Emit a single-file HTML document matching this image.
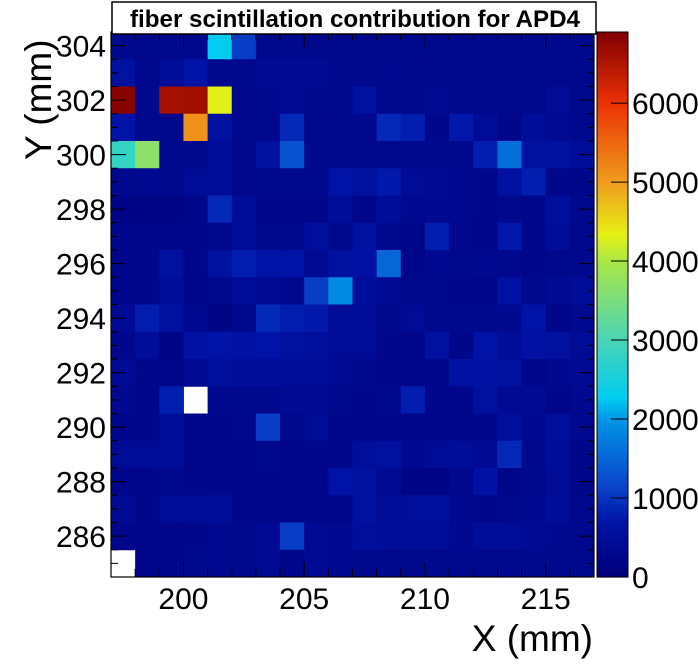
<!DOCTYPE html>
<html><head><meta charset="utf-8"><style>
body{margin:0;background:#fff;}
svg{display:block;font-family:"Liberation Sans",Arial,sans-serif;}
</style></head><body>
<svg id="chart" width="698" height="671" viewBox="0 0 698 671">
<rect x="0" y="0" width="698" height="671" fill="#fff"/>
<g id="cells"></g>
<g id="palette"></g>
<g id="axes"></g>
<rect x="112" y="2" width="484" height="32" fill="#fff" stroke="#000" stroke-width="1.5"/>
<text x="130" y="27" font-size="24" font-weight="bold" textLength="450" lengthAdjust="spacingAndGlyphs">fiber scintillation contribution for APD4</text>
<text x="593" y="651" font-size="37" text-anchor="end">X (mm)</text>
<text transform="translate(51,160) rotate(-90)" font-size="37" text-anchor="start">Y (mm)</text>
</svg>
<script>
const xBins = [197,198,199,200,201,202,203,204,205,206,207,208,209,210,211,212,213,214,215,216];
const yBins = [304,303,302,301,300,299,298,297,296,295,294,293,292,291,290,289,288,287,286,285];
const row0  = [300,300,300,300,2300,1100,300,300,300,300, 300,300,300,300,300,300,300,300,300,300];
const row1  = [600,300,500,700,300,300,400,400,400,300, 300,350,300,300,300,300,350,300,300,300];
const row2  = [6850,300,6600,6650,4300,300,300,400,300,300, 600,300,300,400,300,300,300,300,450,300];
const row3  = [700,300,300,5100,600,300,300,900,300,300, 300,900,800,250,750,450,250,500,400,300];
const row4  = [2800,3700,300,300,500,300,600,1300,300,300, 300,300,350,300,300,800,1600,600,600,500];
const row5  = [300,350,300,450,500,300,300,300,300,700, 600,750,450,400,350,250,600,800,250,250];
const row6  = [200,200,200,250,900,500,250,250,250,500, 250,500,350,350,350,250,300,250,550,300];
const row7  = [250,250,250,250,300,500,300,300,550,300, 600,300,250,800,300,250,750,250,500,300];
const row8  = [250,250,600,250,600,800,700,700,400,600, 650,1500,250,350,300,350,300,250,300,300];
const row9  = [250,250,500,250,300,450,400,300,1100,1900, 500,400,300,300,250,250,650,300,400,500];
const row10 = [400,800,600,350,200,300,900,800,750,450, 450,300,450,300,300,300,350,700,250,350];
const row11 = [250,500,200,650,700,650,700,600,550,450, 450,250,250,600,250,700,500,650,600,450];
const row12 = [400,250,250,400,550,500,500,500,500,400, 300,250,250,250,650,650,600,250,350,400];
const row13 = [350,250,800,0,300,300,300,400,400,300, 250,300,800,250,250,600,400,400,250,350];
const row14 = [250,250,500,250,250,300,1100,300,450,250, 250,250,250,250,250,250,550,350,550,350];
const row15 = [450,450,500,250,250,250,300,250,250,250, 550,600,350,450,500,400,900,300,500,250];
const row16 = [250,250,300,250,250,250,250,250,250,700, 600,400,200,200,300,650,250,300,450,250];
const row17 = [400,250,450,450,500,250,250,250,250,250, 600,450,550,550,350,250,300,350,500,300];
const row18 = [250,250,250,250,350,300,400,1100,400,350, 550,500,500,500,350,500,500,400,350,300];
const row19 = [0,250,250,300,350,300,400,250,400,350, 300,300,300,300,300,300,300,300,300,300];
const rows = [row0,row1,row2,row3,row4,row5,row6,row7,row8,row9,row10,row11,row12,row13,row14,row15,row16,row17,row18,row19];
const xTicks = [200,205,210,215];
const yTicks = [286,288,290,292,294,296,298,300,302,304];
const zTicks = [0,1000,2000,3000,4000,5000,6000];
const zMax = 6900;

const L=111,R=594,T=32,B=577;
const X0=197,X1=217,Y0=284.5,Y1=304.5;
const sx=v=>L+(v-X0)/(X1-X0)*(R-L);
const sy=v=>B-(v-Y0)/(Y1-Y0)*(B-T);
const sz=v=>B-v/zMax*(B-T);
const stops=[[0,[0,0,122]],[0.1,[0,18,165]],[0.17,[10,70,203]],[0.29,[0,150,230]],[0.33,[0,205,240]],[0.43,[70,212,185]],[0.58,[170,230,70]],[0.63,[230,240,20]],[0.72,[240,160,30]],[0.87,[235,50,5]],[1,[128,0,0]]];
function col(v){
  let f=Math.max(0,Math.min(1,v/zMax));
  for(let i=1;i<stops.length;i++){
    if(f<=stops[i][0]){
      const a=stops[i-1],b=stops[i],t=(f-a[0])/(b[0]-a[0]);
      const c=a[1].map((x,k)=>Math.round(x+(b[1][k]-x)*t));
      return `rgb(${c[0]},${c[1]},${c[2]})`;
    }
  }
  return 'rgb(128,0,0)';
}
const NS='http://www.w3.org/2000/svg';
function mk(tag,attrs,parent){const e=document.createElementNS(NS,tag);for(const k in attrs)e.setAttribute(k,attrs[k]);parent.appendChild(e);return e;}
const cells=document.getElementById('cells');
rows.forEach((r,ri)=>{
  r.forEach((v,ci)=>{
    if(v<=0)return;
    const x0=sx(xBins[ci]),x1=sx(xBins[ci]+1),y0=sy(yBins[ri]+0.5),y1=sy(yBins[ri]-0.5);
    const e=mk('rect',{x:x0,y:y0,width:x1-x0+0.5,height:y1-y0+0.5,fill:col(v)},cells);
    
    
  });
});
const pal=document.getElementById('palette');
for(let i=0;i<200;i++){
  const v0=i/200*zMax,v1=(i+1)/200*zMax;
  const e=mk('rect',{x:597,y:sz(v1),width:31,height:sz(v0)-sz(v1)+0.6,fill:col((v0+v1)/2)},pal);
  
  
}
mk('rect',{x:597,y:T,width:31,height:B-T,fill:'none',stroke:'#000','stroke-width':1},pal);
zTicks.forEach(t=>{
  mk('line',{x1:611,x2:628,y1:sz(t),y2:sz(t),stroke:'#000','stroke-width':1},pal);
  const e=mk('text',{x:632,y:sz(t)+11,'font-size':30},pal);
  e.textContent=t;
  
  
});
const ax=document.getElementById('axes');
mk('rect',{x:L,y:T,width:R-L,height:B-T,fill:'none',stroke:'#000','stroke-width':1.2},ax);
for(let v=197;v<=217;v++){
  const len=(v%5===0)?15:8;
  mk('line',{x1:sx(v),x2:sx(v),y1:B,y2:B-len,stroke:'#000'},ax);
  mk('line',{x1:sx(v),x2:sx(v),y1:T,y2:T+len,stroke:'#000'},ax);
}
for(let v=285;v<=304.5;v+=0.5){
  const len=(v%2===0)?15:7;
  mk('line',{x1:L,x2:L+len,y1:sy(v),y2:sy(v),stroke:'#000'},ax);
  mk('line',{x1:R,x2:R-len,y1:sy(v),y2:sy(v),stroke:'#000'},ax);
}
xTicks.forEach(t=>{
  const e=mk('text',{x:sx(t),y:609,'font-size':30,'text-anchor':'middle'},ax);
  e.textContent=t;
  
  
});
yTicks.forEach(t=>{
  const e=mk('text',{x:106,y:sy(t)+11,'font-size':30,'text-anchor':'end'},ax);
  e.textContent=t;
  
  
});
</script>
</body></html>
